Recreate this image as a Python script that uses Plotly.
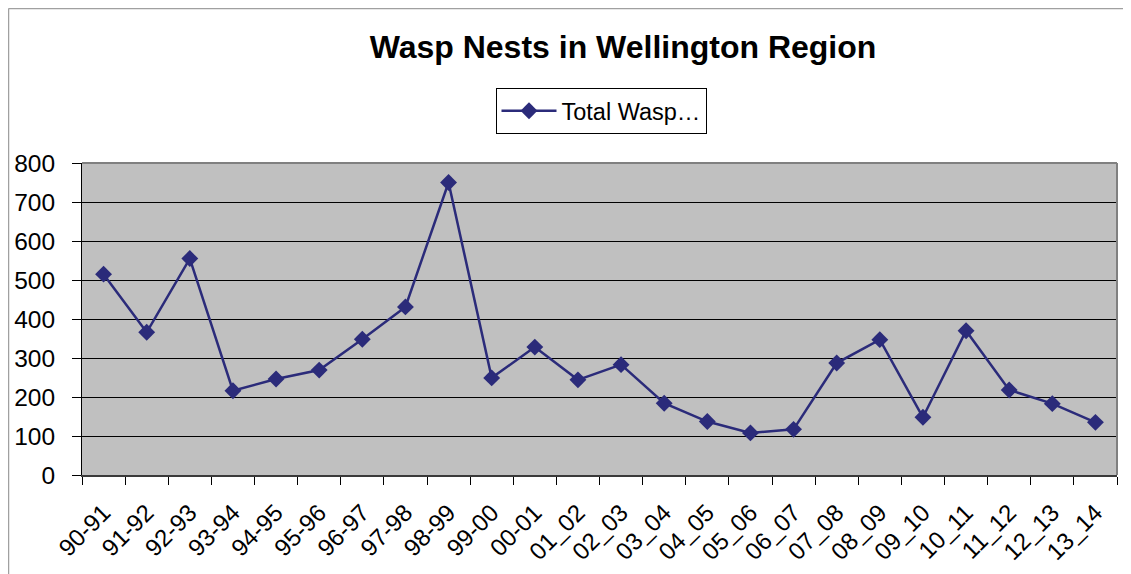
import plotly.graph_objects as go

seasons = ["90-91", "91-92", "92-93", "93-94", "94-95", "95-96", "96-97", "97-98",
           "98-99", "99-00", "00-01", "01_02", "02_03", "03_04", "04_05", "05_06",
           "06_07", "07_08", "08_09", "09_10", "10_11", "11_12", "12_13", "13_14"]
total_wasp_nests = [515, 366, 555, 216, 246, 269, 348, 431, 750, 249, 328, 244,
                    283, 184, 137, 108, 117, 287, 347, 148, 370, 218, 183, 135]
y_ticks = [0, 100, 200, 300, 400, 500, 600, 700, 800]

# page body has an 8px margin; figure is placed at (8, 8) on screen
OFF = 8
PL, PR, PT, PB = 82, 1117, 163, 475   # plot area in screen pixels
W, H = 1131 - OFF, 574 - OFF
L = PL - OFF
T = PT - OFF
R = W - (PR - OFF)
B = H - (PB - OFF)
pw, ph = PR - PL, PB - PT

def px_x(p):
    return (p - PL) / pw

def px_y(p):
    return (PB - p) / ph

navy = "#2B2B7A"
font = "Liberation Sans, Arial, sans-serif"

fig = go.Figure()
fig.add_trace(go.Scatter(
    x=seasons, y=total_wasp_nests, mode="lines+markers",
    name="Total Wasp…",
    line=dict(color=navy, width=2.5),
    marker=dict(symbol="diamond", size=13, color=navy),
))

fig.update_layout(
    width=W, height=H,
    margin=dict(l=L, r=R, t=T, b=B, autoexpand=False),
    paper_bgcolor="white",
    plot_bgcolor="#C0C0C0",
    font=dict(family=font, size=22, color="black"),
    title=dict(text="<b>Wasp Nests in Wellington Region</b>",
               x=px_x(623), xref="paper", xanchor="center",
               y=1 - (47 - OFF) / H, yref="container", yanchor="middle",
               font=dict(family=font, size=32, color="black")),
    showlegend=True,
    legend=dict(x=px_x(601), xanchor="center", y=px_y(88), yanchor="top",
                bordercolor="black", borderwidth=1, bgcolor="white",
                font=dict(family=font, size=23.5),
                itemwidth=55),
    xaxis=dict(type="category", range=[-0.5, len(seasons) - 0.5],
               tickson="boundaries", ticks="outside", ticklen=8,
               tickcolor="black", tickangle=-45, showgrid=False,
               showline=True, linecolor="#3A3A3A", linewidth=2,
               ticklabelstandoff=12,
               tickfont=dict(family=font, size=24)),
    yaxis=dict(range=[0, 800], tickvals=y_ticks, ticks="outside", ticklen=9,
               tickcolor="black", showgrid=True, gridcolor="black", gridwidth=1,
               showline=True, linecolor="black", linewidth=1, zeroline=False,
               ticklabelstandoff=12,
               tickfont=dict(family=font, size=24.5)),
    shapes=[
        dict(type="line", xref="paper", yref="paper", x0=1, x1=1, y0=0, y1=1,
             line=dict(color="#808080", width=2)),
        dict(type="line", xref="paper", yref="paper", x0=0, x1=1, y0=1, y1=1,
             line=dict(color="#808080", width=2)),
        dict(type="line", xref="paper", yref="paper", x0=px_x(OFF + 0.5), x1=px_x(1140),
             y0=px_y(OFF + 0.5), y1=px_y(OFF + 0.5), line=dict(color="#A0A0A0", width=1.5)),
        dict(type="line", xref="paper", yref="paper", x0=px_x(OFF + 0.5), x1=px_x(OFF + 0.5),
             y0=px_y(OFF + 0.5), y1=px_y(590), line=dict(color="#A0A0A0", width=1.5)),
    ],
)

fig.write_html("out.html")
